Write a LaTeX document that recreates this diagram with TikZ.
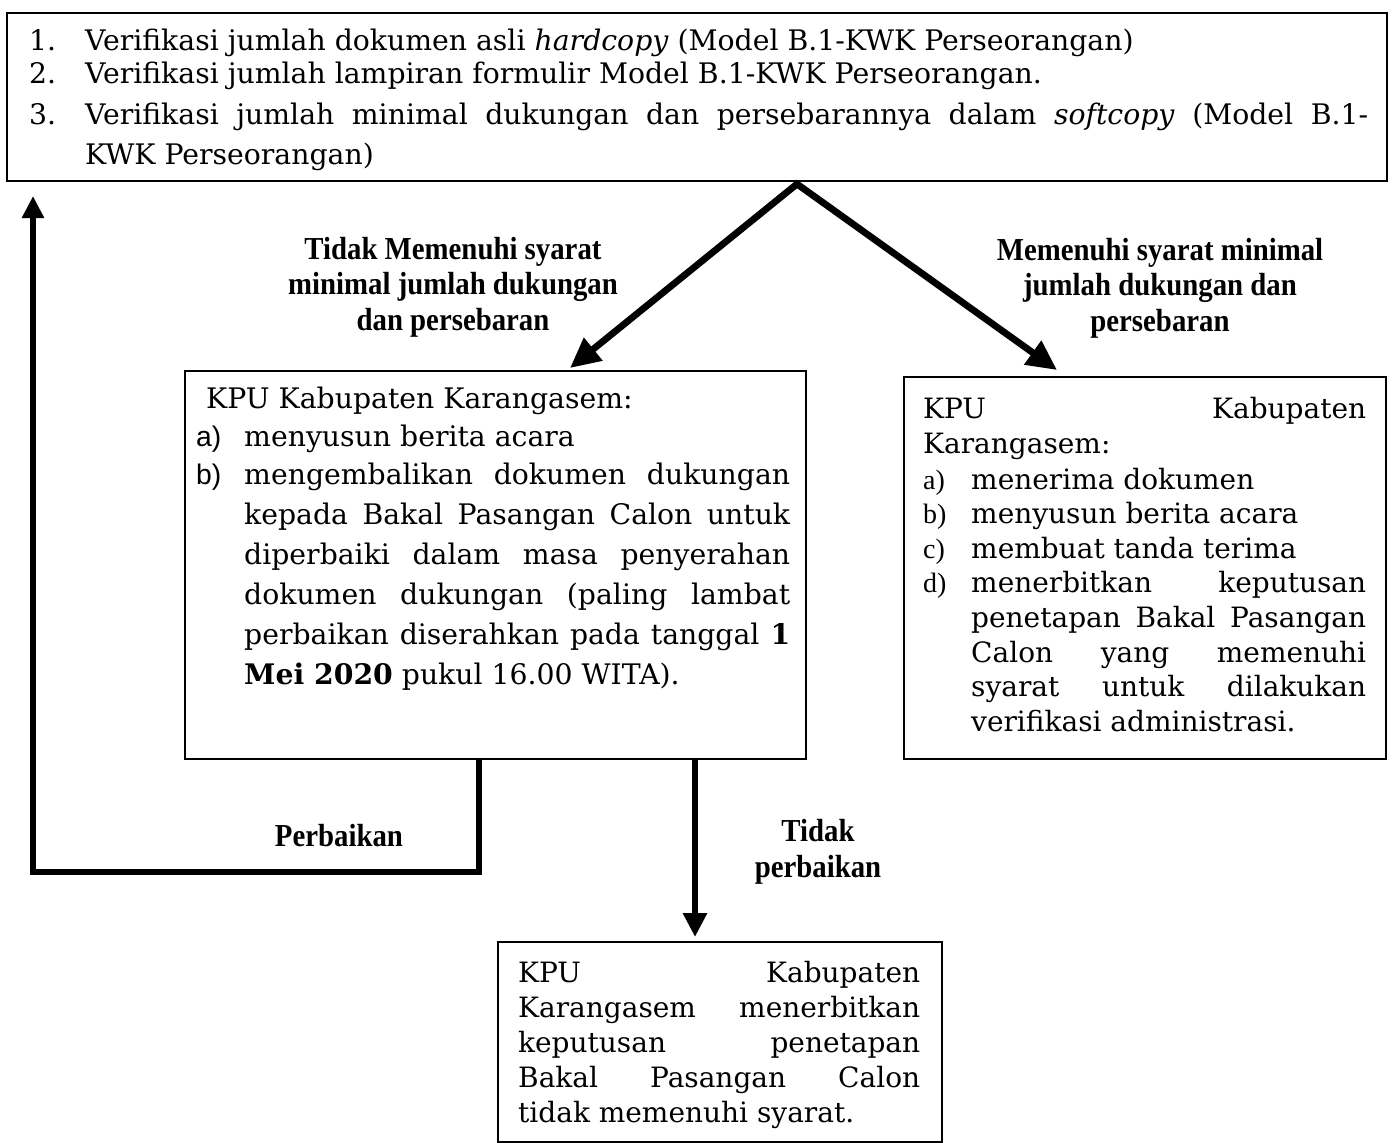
\documentclass[tikz,border=0pt]{standalone}
\usepackage{fontspec}
\setmainfont{DejaVu Serif}
\newfontfamily\labelfont{Liberation Serif}
\newfontfamily\lblfont{Liberation Serif}[FakeStretch=0.9]
\newfontfamily\arialfont{Liberation Sans}
\usetikzlibrary{arrows.meta}
\newdimen\hangw
\newcommand\lab[1]{\hbox to\hangw{#1\hfil}\ignorespaces}
\newcommand\ind{\hskip\hangw\relax\ignorespaces}
\newcommand\jl[1]{\hbox to\hsize{\spaceskip=\fontdimen2\font plus 1fil\relax#1}}
\newcommand\rl[1]{\hbox{#1}}
\tikzset{
  box/.style={draw, line width=1.6pt, anchor=north west, inner sep=0pt},
  txt/.style={anchor=base west, inner sep=0pt},
  lbl/.style={font=\lblfont\bfseries\fontsize{32}{35.5}\selectfont, align=center, inner sep=0pt},
  conn/.style={line width=6.8pt, line join=miter},
}
\begin{document}
\begin{tikzpicture}[x=1pt,y=-1pt]
\useasboundingbox (0,0) rectangle (1393,1143);
% boxes
\node[box, minimum width=1380pt, minimum height=168pt] (top) at (6,12) {};
\node[box, minimum width=621pt, minimum height=388pt] (boxL) at (184,370) {};
\node[box, minimum width=482pt, minimum height=382pt] (boxR) at (903,376) {};
\node[box, minimum width=444pt, minimum height=200pt] (boxB) at (497,941) {};
% top text
\node[txt] (topT) at (29,50) {\vtop{\hsize=1339pt\hangw=56pt\lineskiplimit=-1000pt
  \fontsize{28.3}{33}\selectfont
  \rl{\lab{1.}Verifikasi jumlah dokumen asli \textit{hardcopy} (Model B.1-KWK Perseorangan)}
  \baselineskip=33pt
  \rl{\lab{2.}Verifikasi jumlah lampiran formulir Model B.1-KWK Perseorangan.}
  \baselineskip=41pt
  \jl{\lab{3.}Verifikasi jumlah minimal dukungan dan persebarannya dalam \textit{softcopy} (Model B.1-}
  \baselineskip=40pt
  \rl{\ind KWK Perseorangan)}}};
% left box text
\node[txt] (leftT) at (196,408) {\vtop{\hsize=594pt\hangw=48pt\lineskiplimit=-1000pt
  \fontsize{28.3}{38}\selectfont
  \rl{\hskip10pt KPU Kabupaten Karangasem:}
  \rl{\lab{\arialfont a)}menyusun berita acara}
  \jl{\lab{\arialfont b)}mengembalikan dokumen dukungan}
  \baselineskip=40pt
  \jl{\ind kepada Bakal Pasangan Calon untuk}
  \jl{\ind diperbaiki dalam masa penyerahan}
  \jl{\ind dokumen dukungan (paling lambat}
  \jl{\ind perbaikan diserahkan pada tanggal \textbf{1}}
  \rl{\ind\textbf{Mei 2020} pukul 16.00 WITA).}}};
% right box text
\node[txt] (rightT) at (923,418) {\vtop{\hsize=443pt\hangw=48pt\lineskiplimit=-1000pt
  \fontsize{28}{35}\selectfont
  \jl{KPU Kabupaten}
  \rl{Karangasem:}
  \baselineskip=36pt
  \rl{\lab{\labelfont a)}menerima dokumen}
  \baselineskip=34.6pt
  \rl{\lab{\labelfont b)}menyusun berita acara}
  \rl{\lab{\labelfont c)}membuat tanda terima}
  \jl{\lab{\labelfont d)}menerbitkan keputusan}
  \jl{\ind penetapan Bakal Pasangan}
  \jl{\ind Calon yang memenuhi}
  \jl{\ind syarat untuk dilakukan}
  \rl{\ind verifikasi administrasi.}}};
% bottom box text
\node[txt] (botT) at (518,982) {\vtop{\hsize=402pt\lineskiplimit=-1000pt
  \fontsize{28}{35}\selectfont
  \jl{KPU Kabupaten}
  \jl{Karangasem menerbitkan}
  \jl{keputusan penetapan}
  \jl{Bakal Pasangan Calon}
  \rl{tidak memenuhi syarat.}}};
% labels
\node[lbl] (l1) at (453,287) {Tidak Memenuhi syarat\\minimal jumlah dukungan\\dan persebaran};
\node[lbl] (l2) at (1160,288) {Memenuhi syarat minimal\\jumlah dukungan dan\\persebaran};
\node[lbl] (l3) at (339,836) {Perbaikan};
\node[lbl] (l4) at (818,852) {Tidak\\perbaikan};
% connector coordinates
\coordinate (apex) at (797,184);
\coordinate (tipL) at (570,368);
\coordinate (tipR) at (1057,370);
\coordinate (fbL) at (479,872);
\coordinate (fbC) at (33,872);
\coordinate (tipUp) at (33,196);
\coordinate (dn) at (695,937);
% connectors
\draw[conn, {Triangle[length=30pt,width=28pt]}-{Triangle[length=30pt,width=28pt]}] (tipL) -- (apex) -- (tipR);
\draw[conn, -{Triangle[length=22pt,width=21pt]}] (boxL.south -| fbL) -- (fbL) -- (fbC) -- (tipUp);
\draw[conn, -{Triangle[length=24pt,width=23pt]}] (boxL.south -| dn) -- (dn);
\end{tikzpicture}
\end{document}
